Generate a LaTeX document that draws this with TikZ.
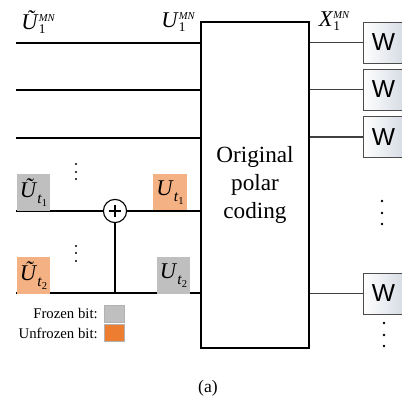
\documentclass[tikz,border=0pt]{standalone}
\usepackage{fontspec}
\setmainfont{Liberation Serif}
\newfontfamily\wfont{Liberation Sans}
\usetikzlibrary{positioning,calc}
\definecolor{fz}{RGB}{191,191,191}
\definecolor{ufl}{RGB}{244,177,131}
\definecolor{uf}{RGB}{237,125,49}
\definecolor{wc}{RGB}{214,220,228}
\newcommand\ulbl[3]{\textit{#1}\rlap{\raisebox{-2.8pt}{\fontsize{9.5}{10}\selectfont #2}}\raisebox{5.9pt}{\fontsize{7.5}{8}\selectfont\itshape #3}}
\newcommand\usub[2]{\textit{#1}\raisebox{-4.5pt}{\fontsize{11}{11}\selectfont\textit{t}\raisebox{-2pt}{\fontsize{7.5}{8}\selectfont #2}}}
\tikzset{wire/.style={line width=1.3pt},owire/.style={line width=1.1pt,draw=black!75},
 bit/.style={inner sep=0pt,minimum width=8.3mm,minimum height=9.3mm,font=\rmfamily\fontsize{16}{19}\selectfont},
 fb/.style={bit,fill=fz},ub/.style={bit,fill=ufl},
 chan/.style={draw=black!70,line width=.6pt,left color=white,right color=wc,minimum width=10.25mm,minimum height=10.25mm,inner sep=0pt,font=\wfont\fontsize{17.5}{20}\selectfont},
 lab/.style={font=\rmfamily\fontsize{16}{19}\selectfont,inner sep=0pt},
 leg/.style={draw=black!30,line width=.5pt,minimum width=5mm,minimum height=4.2mm,inner sep=0pt},
 every node/.style={font=\rmfamily\fontsize{10.5}{12}\selectfont}}
\begin{document}
\begin{tikzpicture}[x=.25mm,y=-.25mm]
\useasboundingbox (0,0) rectangle (402,402);
\clip (0,0) rectangle (402,402);
\node[draw,line width=.8pt,minimum width=27mm,minimum height=81.5mm,align=center,font=\rmfamily\fontsize{16.5}{20}\selectfont] (pc) at (255,185) {Original\\polar\\coding};
\coordinate (s1) at (16,43);\coordinate (s2) at (16,90);\coordinate (s3) at (16,138);
\coordinate (s4) at (16,211);\coordinate (s5) at (16,293);
\foreach \s in {s1,s2,s3,s4,s5} \draw[wire] (\s)--(\s -| pc.west);
\node[chan] (w1) at (383.5,42.5) {W};\node[chan] (w2) at (383.5,89.5) {W};
\node[chan] (w3) at (383.5,137) {W};\node[chan] (w4) at (383.5,293.5) {W};
\foreach \w in {w1,w2,w3,w4} \draw[owire] (pc.east |- \w.west)--(\w.west);
\node[lab] (l0) at (38,22) {\ulbl{\~U}{1}{MN}};
\node[lab] (l1) at (178,22) {\ulbl{U}{1}{MN}};
\node[lab] (l2) at (334,21) {\ulbl{X}{1}{MN}};
\node[fb] (ft1) at (33.5,192.5) {\usub{\~U}{1}};
\node[ub] (ut1) at (170,192.5) {\usub{U}{1}};
\node[ub] (ft2) at (33.5,275.5) {\usub{\~U}{2}};
\node[fb] (ut2) at (173.5,275.5) {\usub{U}{2}};
\draw[wire] (s4 -| 115,0)--(s4 -| pc.west);
\node[circle,draw,line width=.8pt,fill=white,minimum size=5.8mm,inner sep=0pt,
 path picture={\draw[line width=2pt] (path picture bounding box.center) +(-1.5mm,0)--+(1.5mm,0) +(0,-1.5mm)--+(0,1.5mm);}] (xr) at (115,211) {};
\draw[wire] (xr.south)--(xr |- s5);
\foreach \y in {164,172,179,246,253,261} \fill (76,\y) circle (.3mm);
\foreach \y in {201,213,224} \fill (382,\y) circle (.35mm);
\foreach \y in {323,335,346} \fill (384,\y) circle (.35mm);
\node[anchor=east,inner sep=0pt] (tf) at (98,313) {Frozen bit:};
\node[anchor=east,inner sep=0pt] (tu) at (98,333) {Unfrozen bit:};
\node[leg,fill=fz] (kf) at (114,314) {};
\node[leg,fill=uf] (ku) at (114,332.5) {};
\node[font=\rmfamily\fontsize{12.5}{14}\selectfont] (cap) at (208,388) {(a)};
\end{tikzpicture}
\end{document}
